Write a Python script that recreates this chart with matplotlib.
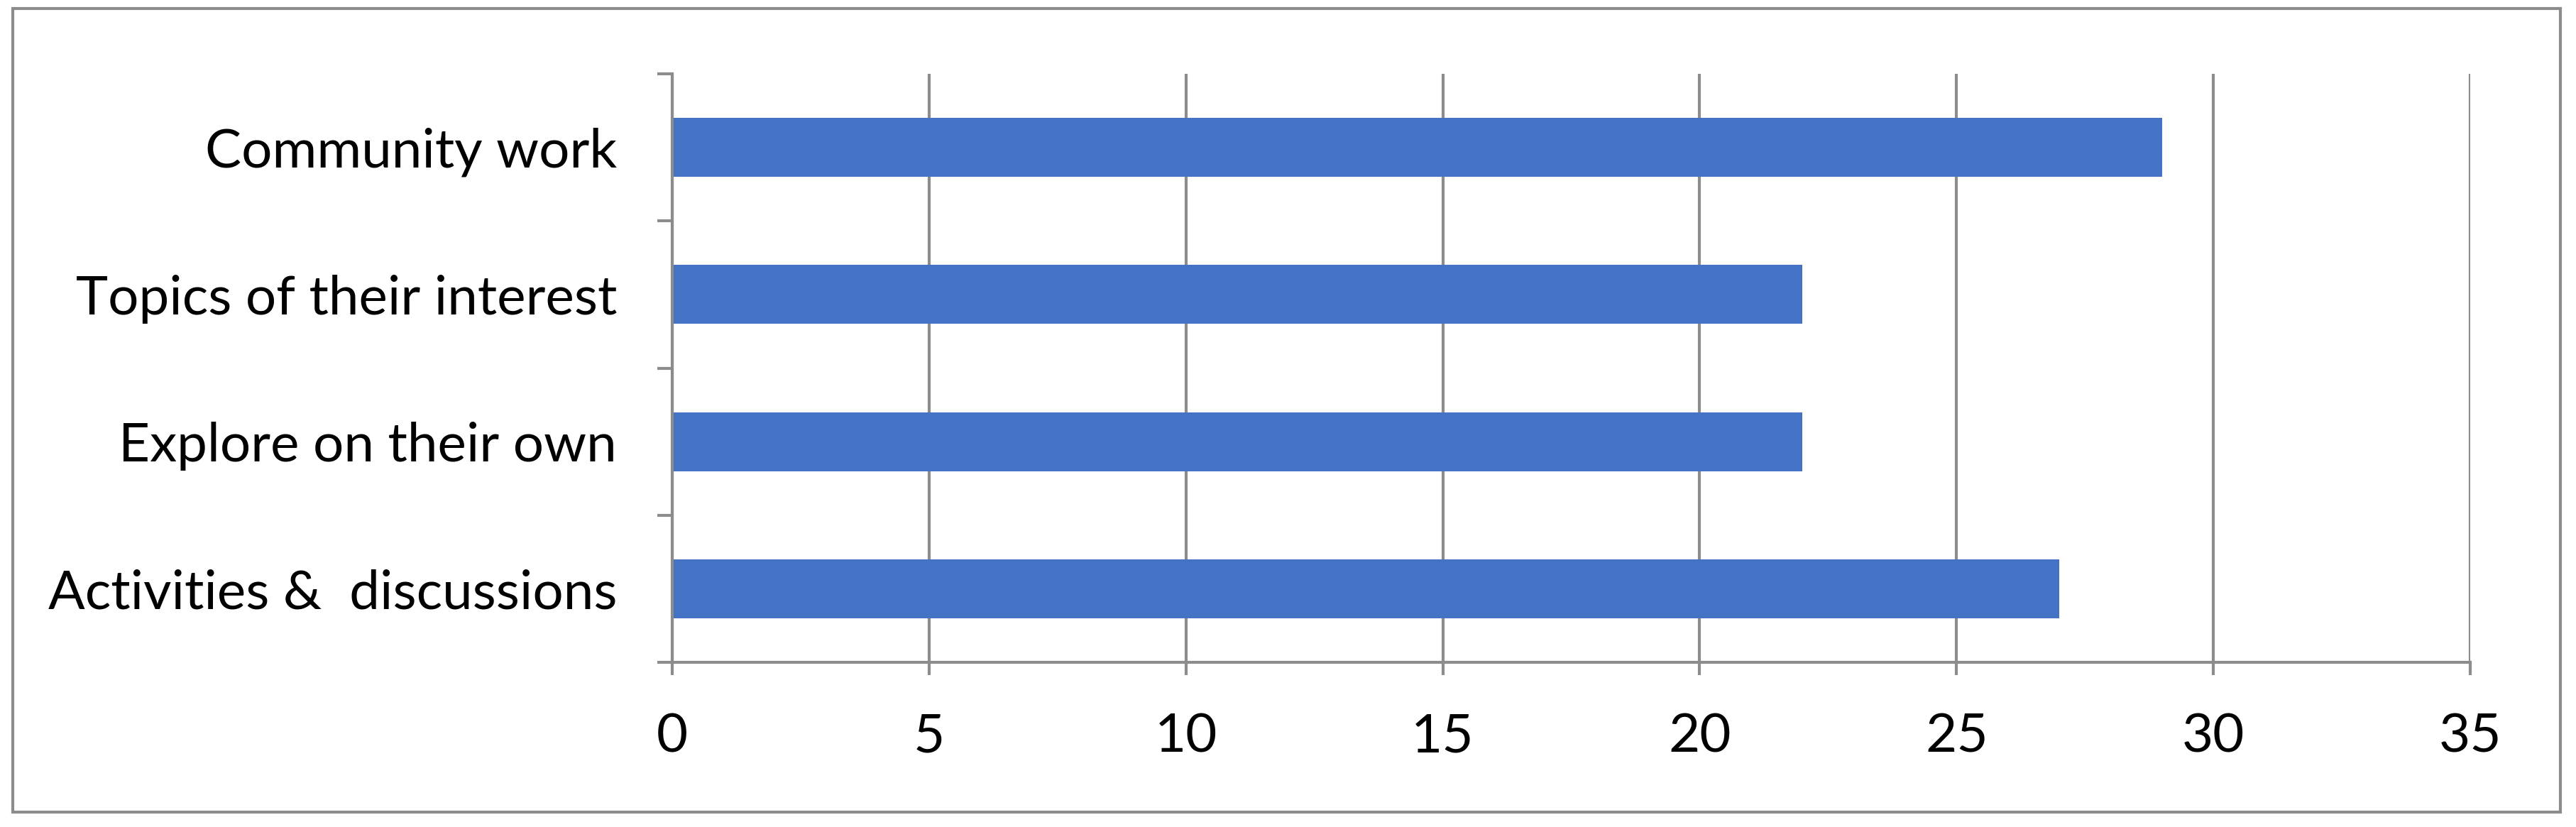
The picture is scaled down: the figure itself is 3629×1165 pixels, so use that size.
import numpy as np
import matplotlib
matplotlib.use('Agg')
import matplotlib.pyplot as plt
from matplotlib.patches import Rectangle

categories = ['Activities &  discussions', 'Explore on their own',
              'Topics of their interest', 'Community work']
values = [27, 22, 22, 29]
xticks = [0, 5, 10, 15, 20, 25, 30, 35]

grey = '#8c8c8c'
blue = '#4472C4'

plt.rcParams['font.family'] = ['Lato', 'DejaVu Sans']

fig = plt.figure(figsize=(36.3, 11.65), dpi=100)
ax = fig.add_axes([947 / 3630, 1 - 933 / 1165, (3480 - 947) / 3630, (933 - 104) / 1165])

y = np.arange(len(categories))
ax.barh(y, values, height=0.4, color=blue, zorder=3)

ax.set_xlim(0, 35)
ax.set_ylim(-0.5, len(categories) - 0.5)
ax.set_xticks(xticks)
ax.set_xticklabels([str(t) for t in xticks])
ax.set_yticks(y)
ax.set_yticklabels(categories)
ax.set_yticks(np.arange(-0.5, len(categories)), minor=True)

ax.grid(axis='x', color=grey, linewidth=3, zorder=0)
for s in ['top', 'right']:
    ax.spines[s].set_visible(False)
for s in ['left', 'bottom']:
    ax.spines[s].set_color(grey)
    ax.spines[s].set_linewidth(3)
    ax.spines[s].set_zorder(4)

ax.tick_params(axis='y', which='major', length=0, pad=56, labelsize=55)
ax.tick_params(axis='y', which='minor', length=15, width=3, color=grey)
ax.tick_params(axis='x', length=13, width=3, color=grey, pad=38, labelsize=55)

# outer chart border
fig.patches.append(Rectangle((18 / 3630, 1 - 1144 / 1165), (3607 - 18) / 3630, (1144 - 12) / 1165,
                             transform=fig.transFigure, fill=False, edgecolor=grey, linewidth=3))

fig.savefig('out.png', dpi=100)
